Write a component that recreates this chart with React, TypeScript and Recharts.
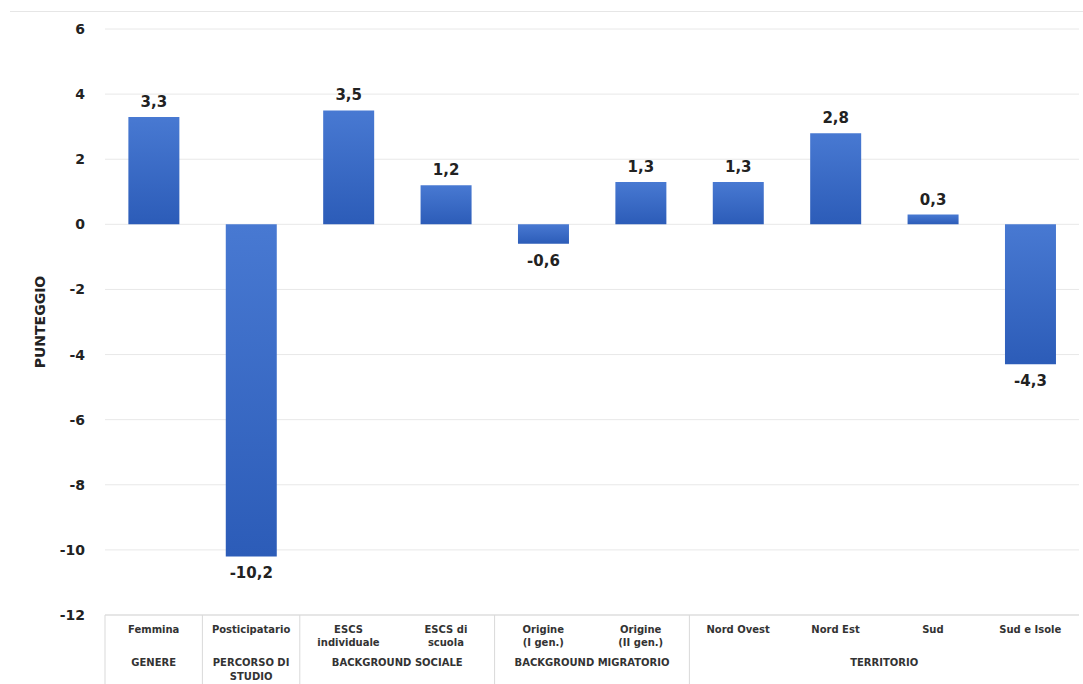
import { BarChart, Bar, XAxis, YAxis, CartesianGrid, LabelList } from 'recharts';

// ─── Data ──────────────────────────────────────────────────────────────────
const categories = [
  'Femmina', 'Posticipatario', 'ESCS|individuale', 'ESCS  di|scuola', 'Origine|(I gen.)',
  'Origine|(II gen.)', 'Nord Ovest', 'Nord Est', 'Sud', 'Sud e Isole',
];
const values = [3.3, -10.2, 3.5, 1.2, -0.6, 1.3, 1.3, 2.8, 0.3, -4.3];
// group label, first category index, number of categories
const groupNames = ['GENERE', 'PERCORSO DI|STUDIO', 'BACKGROUND SOCIALE', 'BACKGROUND MIGRATORIO', 'TERRITORIO'];
const groupStart = [0, 1, 2, 4, 6];
const groupSize = [1, 1, 2, 2, 4];
const yTicks = [6, 4, 2, 0, -2, -4, -6, -8, -10, -12];

const chartData = categories.map((name, i) => ({ name, value: values[i] }));

const FONT = '"DejaVu Sans", Verdana, sans-serif';
const fmt = (v: number) => v.toFixed(1).replace('.', ',');

// ─── Multi-level category tick ─────────────────────────────────────────────
const CategoryTick = (props: any) => {
  const { x, y, index, payload } = props;
  const band = payload && payload.offset ? payload.offset * 2 : 97.4;
  const lines = String(payload.value).split('|');
  const g = groupStart.indexOf(index);
  const out: any[] = [];
  lines.forEach((l, k) => {
    out.push(
      <text key={'c' + k} x={x} y={y + 18 + k * 13} textAnchor="middle" fontSize={10}
        fontWeight="bold" fontFamily={FONT} fill="#333">{l}</text>
    );
  });
  if (g >= 0) {
    const cx = x + ((groupSize[g] - 1) * band) / 2;
    groupNames[g].split('|').forEach((l, k) => {
      out.push(
        <text key={'g' + k} x={cx} y={y + 51 + k * 14} textAnchor="middle" fontSize={10}
          fontWeight="bold" fontFamily={FONT} fill="#333">{l}</text>
      );
    });
    out.push(<line key="sep" x1={x - band / 2} x2={x - band / 2} y1={y} y2={y + 80} stroke="#d9d9d9" />);
  }
  return <g>{out}</g>;
};

const ValueLabel = (props: any) => {
  const { x, y, width, height, value } = props;
  const top = Math.min(y, y + height);
  const bottom = Math.max(y, y + height);
  const ty = value >= 0 ? top - 10 : bottom + 22;
  return (
    <text x={x + width / 2} y={ty} textAnchor="middle" fontSize={15} fontWeight="bold"
      fontFamily={FONT} fill="#222">{fmt(value)}</text>
  );
};

export default function App() {
  return (
    <div style={{ position: 'absolute', left: 0, top: 0, width: 1083, height: 684, background: '#fff' }}>
      <div style={{ position: 'absolute', left: 10, right: 0, top: 11, borderTop: '1px solid #e6e6e6' }} />
      <BarChart width={1083} height={684} data={chartData}
        margin={{ top: 29, right: 4, left: 45, bottom: 0 }} barCategoryGap="24%">
        <defs>
          <linearGradient id="barFill" x1="0" y1="0" x2="0" y2="1">
            <stop offset="0%" stopColor="#4879d2" />
            <stop offset="100%" stopColor="#2c5cb8" />
          </linearGradient>
        </defs>
        <CartesianGrid stroke="#e8e8e8" vertical={false} />
        <XAxis dataKey="name" height={69} tickLine={false} tickSize={0} tickMargin={0}
          axisLine={{ stroke: '#d9d9d9' }} interval={0} tick={<CategoryTick />} />
        <YAxis domain={[-12, 6]} ticks={yTicks} width={60} axisLine={false} tickLine={false}
          tickMargin={14} tick={{ fill: '#222', fontSize: 14, fontWeight: 'bold', fontFamily: FONT }}
          label={{ value: 'PUNTEGGIO', angle: -90, position: 'insideLeft', offset: -5,
            style: { fill: '#222', fontSize: 14, fontWeight: 'bold', fontFamily: FONT, textAnchor: 'middle' } }} />
        <Bar dataKey="value" fill="url(#barFill)" isAnimationActive={false}>
          <LabelList dataKey="value" content={<ValueLabel />} />
        </Bar>
      </BarChart>
    </div>
  );
}
